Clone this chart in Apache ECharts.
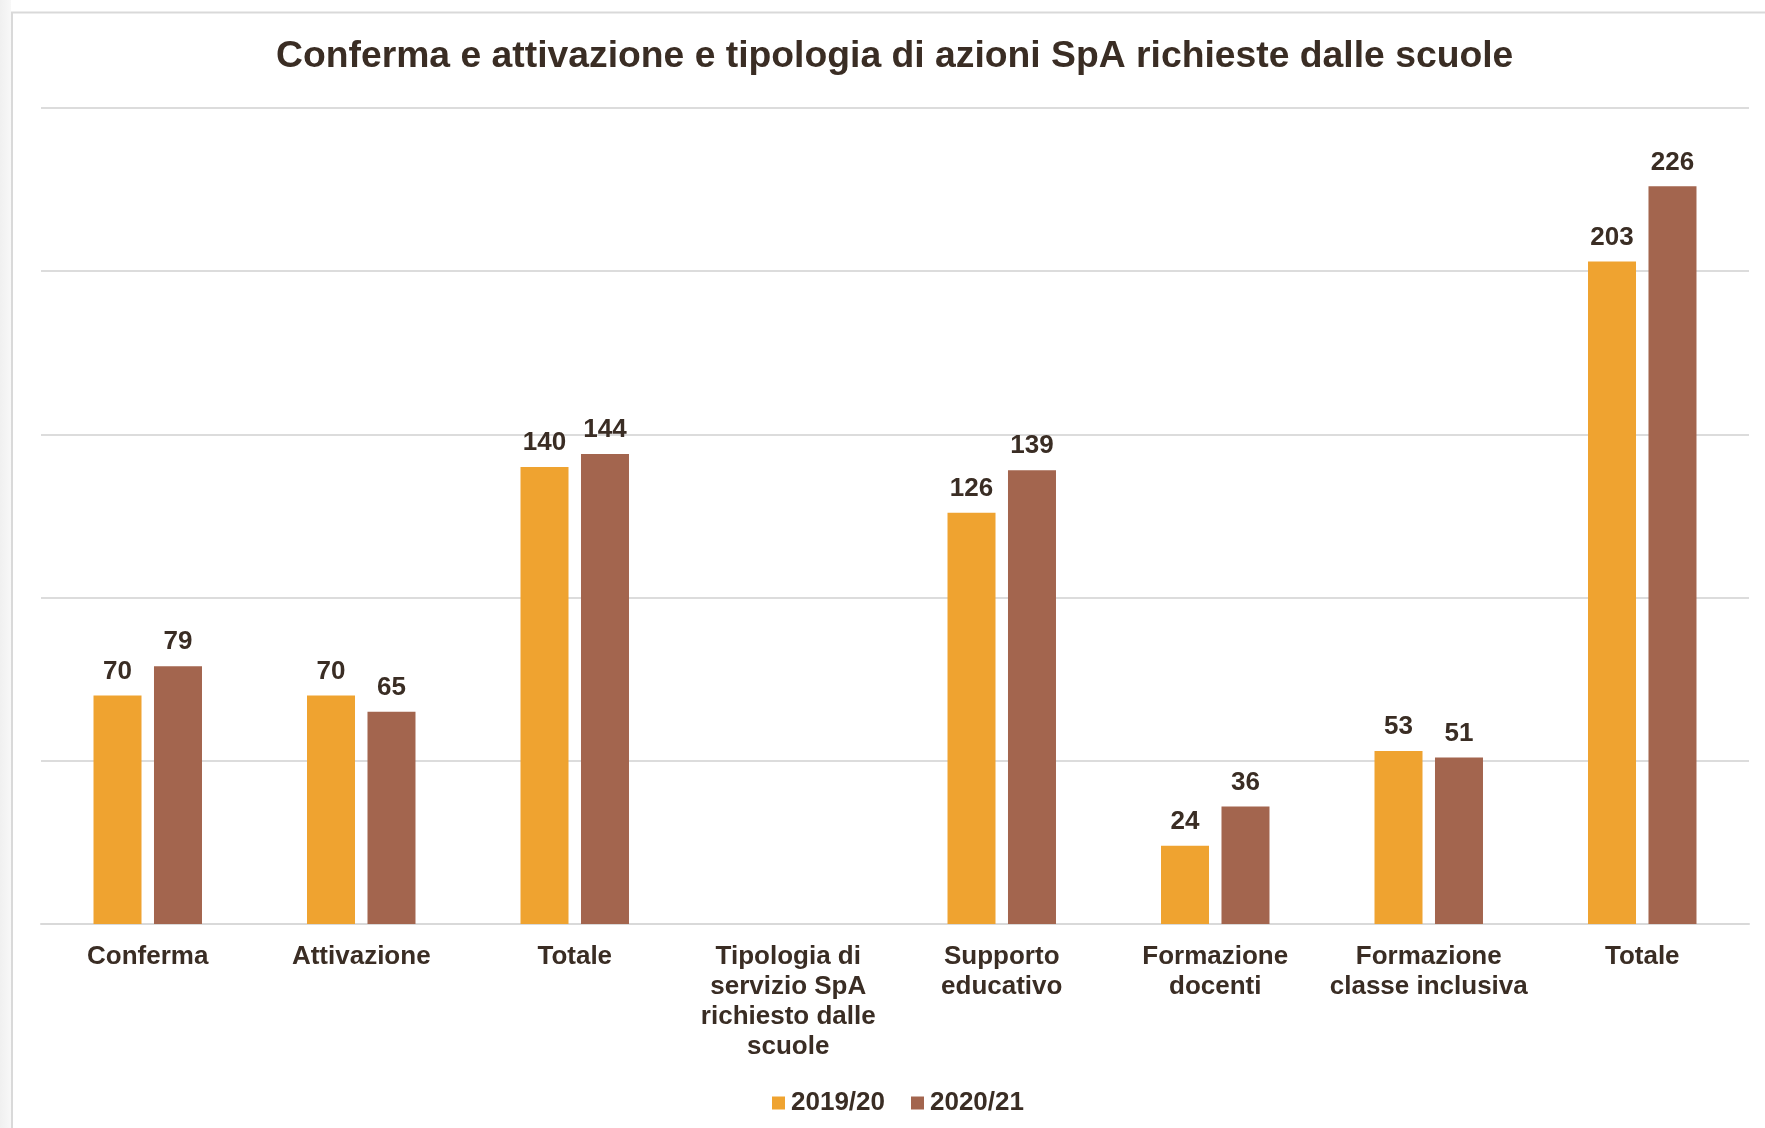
<!DOCTYPE html>
<html>
<head>
<meta charset="utf-8">
<script src="https://cdn.jsdelivr.net/npm/echarts@6/dist/echarts.min.js"></script>
<style>
html,body{margin:0;padding:0;background:#fff;}
#chart{width:1765px;height:1128px;}
</style>
</head>
<body>
<div id="chart"></div>
<script>
const categories = ["Conferma", "Attivazione", "Totale", "Tipologia di\nservizio SpA\nrichiesto dalle\nscuole", "Supporto\neducativo", "Formazione\ndocenti", "Formazione\nclasse inclusiva", "Totale"];
const seriesNames = ["2019/20", "2020/21"];
const values2019 = [70, 70, 140, null, 126, 24, 53, 203];
const values2020 = [79, 65, 144, null, 139, 36, 51, 226];
const yTicks = [0, 50, 100, 150, 200, 250];

const textColor = '#3A2D24';
const FONT = "'Liberation Sans', Arial, sans-serif";
const chart = echarts.init(document.getElementById('chart'));
const labelStyle = {
  show: true, position: 'top', distance: 11,
  color: textColor, fontFamily: FONT,
  fontWeight: 'bold', fontSize: 26
};
chart.setOption({
  animation: false,
  backgroundColor: '#fff',
  graphic: [
    {type: 'rect', z: -10, shape: {x: 0, y: 0, width: 11, height: 1128},
     style: {fill: new echarts.graphic.LinearGradient(0, 0, 1, 0, [{offset: 0, color: '#f0f0f0'}, {offset: 1, color: '#f8f8f8'}])}},
    {type: 'rect', z: -9, shape: {x: 12, y: 12.5, width: 1765, height: 1130},
     style: {fill: 'none', stroke: '#d9d9d9', lineWidth: 2}}
  ],
  title: {
    text: 'Conferma e attivazione e tipologia di azioni SpA richieste dalle scuole',
    left: 276, top: 38, padding: 0,
    textStyle: {color: textColor, fontFamily: FONT, fontWeight: 'bold', fontSize: 37.3, lineHeight: 37}
  },
  legend: {
    data: seriesNames, left: 772, top: 1090, padding: 0,
    itemWidth: 13, itemHeight: 13, itemGap: 26, icon: 'rect',
    textStyle: {color: textColor, fontFamily: FONT, fontWeight: 'bold', fontSize: 26, lineHeight: 26, padding: [0, 0, 0, 1]}
  },
  grid: {left: 41, right: 16, top: 108, bottom: 204, containLabel: false},
  xAxis: {
    type: 'category', data: categories,
    axisLine: {lineStyle: {color: '#d9d9d9', width: 2}},
    axisTick: {show: false},
    axisLabel: {interval: 0, margin: 18, color: textColor, fontFamily: FONT, fontWeight: 'bold', fontSize: 26, lineHeight: 30}
  },
  yAxis: {
    type: 'value', min: yTicks[0], max: yTicks[yTicks.length - 1], interval: 50,
    axisLabel: {show: false}, axisLine: {show: false}, axisTick: {show: false},
    splitLine: {lineStyle: {color: '#dcdcdc', width: 2}}
  },
  series: [
    {name: seriesNames[0], type: 'bar', data: values2019, barWidth: 48, barGap: '26%',
     itemStyle: {color: '#EFA330'}, label: labelStyle},
    {name: seriesNames[1], type: 'bar', data: values2020, barWidth: 48, barGap: '26%',
     itemStyle: {color: '#A3654E'}, label: labelStyle}
  ]
});
</script>
</body>
</html>
